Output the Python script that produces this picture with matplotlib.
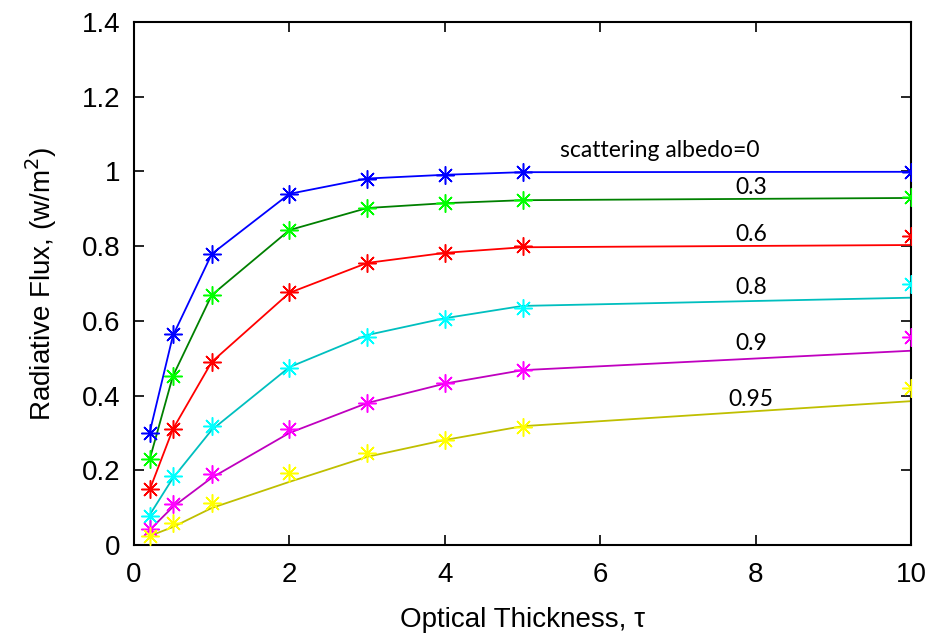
import numpy as np
import matplotlib
matplotlib.use("Agg")
import matplotlib.pyplot as plt

# optical thickness values
tau = [0.2, 0.5, 1, 2, 3, 4, 5, 10]
albedo_labels = ["scattering albedo=0", "0.3", "0.6", "0.8", "0.9", "0.95"]

# solid curves (one per scattering albedo)
line_vals = [
    [0.300, 0.560, 0.779, 0.940, 0.981, 0.991, 0.998, 0.999],
    [0.228, 0.452, 0.669, 0.843, 0.902, 0.915, 0.923, 0.929],
    [0.147, 0.310, 0.490, 0.675, 0.755, 0.782, 0.797, 0.803],
    [0.080, 0.179, 0.308, 0.476, 0.562, 0.607, 0.640, 0.662],
    [0.040, 0.102, 0.180, 0.300, 0.380, 0.432, 0.468, 0.520],
    [0.024, 0.048, 0.099, 0.169, 0.236, 0.281, 0.318, 0.385],
]

# asterisk markers (reference values)
mark_vals = [
    [0.300, 0.565, 0.779, 0.940, 0.980, 0.990, 0.998, 0.998],
    [0.230, 0.452, 0.669, 0.843, 0.902, 0.915, 0.923, 0.931],
    [0.150, 0.310, 0.490, 0.677, 0.755, 0.782, 0.800, 0.827],
    [0.078, 0.185, 0.318, 0.474, 0.557, 0.605, 0.634, 0.699],
    [0.043, 0.110, 0.190, 0.310, 0.380, 0.434, 0.468, 0.557],
    [0.024, 0.059, 0.112, 0.193, 0.246, 0.281, 0.316, 0.420],
]

# label anchor positions (data coords)
label_x = [6.77, 7.94, 7.94, 7.94, 7.94, 7.94]
label_y = [1.055, 0.958, 0.832, 0.690, 0.540, 0.390]

line_colors = [(0, 0, 1), (0, 0.5, 0), (1, 0, 0), (0, 0.75, 0.75), (0.75, 0, 0.75), (0.75, 0.75, 0)]
mark_colors = [(0, 0, 1), (0, 1, 0), (1, 0, 0), (0, 1, 1), (1, 0, 1), (1, 1, 0)]

plt.rcParams["font.family"] = ["Liberation Sans", "DejaVu Sans"]

fig = plt.figure(figsize=(9.34, 6.38), dpi=100)
ax = fig.add_axes([0.1435, 0.1458, 0.9754 - 0.1435, 0.9655 - 0.1458])

for lv, mv, lc, mc in zip(line_vals, mark_vals, line_colors, mark_colors):
    ax.plot(tau, lv, color=lc, lw=1.3, zorder=2)
    ax.plot(tau, mv, ls="none", marker=(8, 2, 0), ms=13, mew=1.1, color=mc, zorder=3)

for txt, x, y in zip(albedo_labels, label_x, label_y):
    ax.text(x, y, txt, ha="center", va="center", fontsize=16.5, family=["Lato", "DejaVu Sans"])

ax.set_xlim(0, 10)
ax.set_ylim(0, 1.4)
ax.set_xticks([0, 2, 4, 6, 8, 10])
ax.set_yticks([0, 0.2, 0.4, 0.6, 0.8, 1.0, 1.2, 1.4])
ax.set_yticklabels(["0", "0.2", "0.4", "0.6", "0.8", "1", "1.2", "1.4"])
ax.tick_params(direction="in", length=7, width=1.2, top=True, right=True, labelsize=20)
ax.tick_params(axis="x", pad=12)
ax.tick_params(axis="y", pad=10)
for s in ax.spines.values():
    s.set_linewidth(1.5)

ax.set_xlabel("Optical Thickness, τ", fontsize=20, labelpad=14)
ax.set_ylabel("Radiative Flux, (w/m$^2$)", fontsize=20, labelpad=16)

fig.savefig("out.png", dpi=100)
